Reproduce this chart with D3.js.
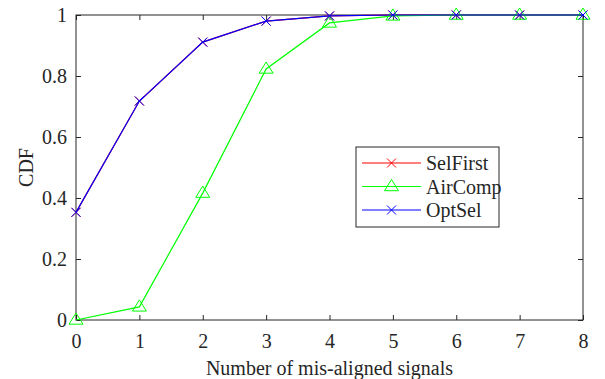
<!DOCTYPE html>
<html>
<head>
<meta charset="utf-8">
<script src="https://cdn.jsdelivr.net/npm/d3@7"></script>
<style>
  body { margin: 0; background: #fff; }
  text { font-family: "Liberation Serif", "Times New Roman", serif; fill: #262626; }
</style>
</head>
<body>
<div id="chart"></div>
<script>
// values
const xValues = [0, 1, 2, 3, 4, 5, 6, 7, 8];
const selFirst = [0.353, 0.718, 0.911, 0.980, 0.997, 1, 1, 1, 1];
const airComp = [0.0, 0.043, 0.416, 0.823, 0.974, 0.997, 1, 1, 1];
const optSel = [0.353, 0.718, 0.911, 0.980, 0.997, 1, 1, 1, 1];
const xTicks = [0, 1, 2, 3, 4, 5, 6, 7, 8];
const yTicks = [0, 0.2, 0.4, 0.6, 0.8, 1];

const series = [
  { name: 'SelFirst', values: selFirst, color: '#ff0000', marker: 'x' },
  { name: 'AirComp', values: airComp, color: '#00ff00', marker: 'tri' },
  { name: 'OptSel', values: optSel, color: '#0000ff', marker: 'x' }
];

const width = 605, height = 379;
const margin = { top: 15, right: 22, bottom: 59, left: 76 };
const fontSize = 20;

const svg = d3.select('#chart').append('svg')
  .attr('width', width)
  .attr('height', height);

const x = d3.scaleLinear().domain([0, 8]).range([margin.left, width - margin.right]);
const y = d3.scaleLinear().domain([0, 1]).range([height - margin.bottom, margin.top]);

const axisColor = '#262626';
const tickLen = 5;

// box
svg.append('rect')
  .attr('x', x(0)).attr('y', y(1))
  .attr('width', x(8) - x(0)).attr('height', y(0) - y(1))
  .attr('fill', 'none').attr('stroke', axisColor).attr('stroke-width', 1);

const xAxis = d3.axisBottom(x).tickValues(xTicks).tickSize(-tickLen).tickPadding(14).tickFormat(d3.format('d'));
const yAxis = d3.axisLeft(y).tickValues(yTicks).tickSize(-tickLen).tickPadding(9).tickFormat(d => d === 0 || d === 1 ? String(d) : d3.format('.1f')(d));
const xAxisTop = d3.axisTop(x).tickValues(xTicks).tickSize(-tickLen).tickFormat('');
const yAxisRight = d3.axisRight(y).tickValues(yTicks).tickSize(-tickLen).tickFormat('');

function styleAxis(g) {
  g.attr('font-family', null).attr('font-size', null);
  g.select('.domain').remove();
  g.selectAll('.tick line').attr('stroke', axisColor);
  g.selectAll('.tick text').attr('font-size', fontSize).attr('fill', axisColor);
}

svg.append('g').attr('transform', `translate(0,${y(0)})`).call(xAxis).call(styleAxis);
svg.append('g').attr('transform', `translate(${x(0)},0)`).call(yAxis).call(styleAxis);
svg.append('g').attr('transform', `translate(0,${y(1)})`).call(xAxisTop).call(styleAxis);
svg.append('g').attr('transform', `translate(${x(8)},0)`).call(yAxisRight).call(styleAxis);

svg.append('text')
  .attr('x', (x(0) + x(8)) / 2)
  .attr('y', 375)
  .attr('text-anchor', 'middle')
  .attr('font-size', fontSize)
  .text('Number of mis-aligned signals');

svg.append('text')
  .attr('transform', `translate(33,${(y(0) + y(1)) / 2}) rotate(-90)`)
  .attr('text-anchor', 'middle')
  .attr('font-size', fontSize)
  .text('CDF');

function drawMarker(g, type, cx, cy, color) {
  if (type === 'x') {
    const s = 4.5;
    g.append('path')
      .attr('d', `M${cx - s},${cy - s}L${cx + s},${cy + s}M${cx - s},${cy + s}L${cx + s},${cy - s}`)
      .attr('stroke', color).attr('stroke-width', 1).attr('fill', 'none');
  } else {
    const s = 7;
    g.append('path')
      .attr('d', `M${cx},${cy - s}L${cx + s},${cy + s * 0.6}L${cx - s},${cy + s * 0.6}Z`)
      .attr('stroke', color).attr('stroke-width', 1).attr('fill', 'none');
  }
}

const line = d3.line().x((d, i) => x(xValues[i])).y(d => y(d));

series.forEach(s => {
  const g = svg.append('g');
  g.append('path')
    .datum(s.values)
    .attr('d', line)
    .attr('fill', 'none')
    .attr('stroke', s.color)
    .attr('stroke-width', 1.2);
  s.values.forEach((v, i) => drawMarker(g, s.marker, x(xValues[i]), y(v), s.color));
});

// legend
const lg = svg.append('g').attr('transform', 'translate(356,147)');
lg.append('rect')
  .attr('width', 143).attr('height', 80)
  .attr('fill', '#fff').attr('stroke', axisColor).attr('stroke-width', 1);
series.forEach((s, i) => {
  const cy = 16 + i * 23.5;
  lg.append('line')
    .attr('x1', 6).attr('x2', 65).attr('y1', cy).attr('y2', cy)
    .attr('stroke', s.color).attr('stroke-width', 1.2);
  drawMarker(lg, s.marker, 35.5, cy, s.color);
  lg.append('text')
    .attr('x', 70).attr('y', cy + 7)
    .attr('font-size', fontSize)
    .text(s.name);
});
</script>
</body>
</html>
